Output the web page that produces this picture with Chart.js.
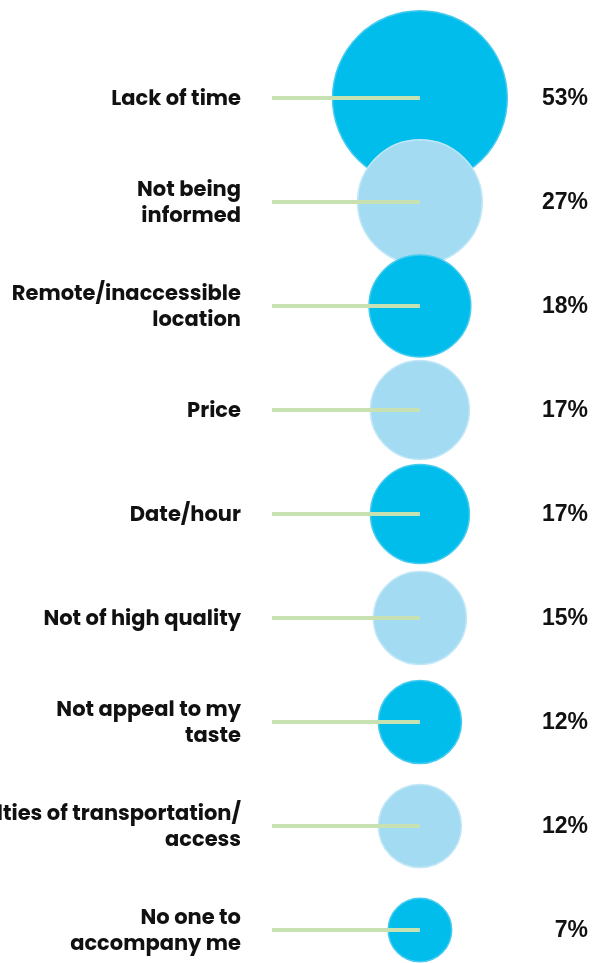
<!DOCTYPE html>
<html>
<head>
<meta charset="utf-8">
<script src="https://cdn.jsdelivr.net/npm/chart.js@4.4.1/dist/chart.umd.min.js"></script>
<style>
html,body{margin:0;padding:0;background:#fff;}
#wrap{width:599px;height:963px;position:relative;}
</style>
</head>
<body>
<div id="wrap"><canvas id="c"></canvas></div>
<script>
const categories = [
  "Lack of time",
  ["Not being", "informed"],
  ["Remote/inaccessible", "location"],
  "Price",
  "Date/hour",
  "Not of high quality",
  ["Not appeal to my", "taste"],
  ["Difficulties of transportation/", "access"],
  ["No one to", "accompany me"]
];
const values = [53, 27, 18, 17, 17, 15, 12, 12, 7];
const valueLabels = ["53%", "27%", "18%", "17%", "17%", "15%", "12%", "12%", "7%"];

const DARK = "#00bdeb", LIGHT = "#a3dbf2";
const DARK_BORDER = "#45cbef", LIGHT_BORDER = "#c2e8f7";
const X_BUBBLE = 0.634, X_LINE_START = 0.082;

const bubbleData = values.map((v, i) => ({ x: X_BUBBLE, y: i, r: Math.sqrt(v) * 12 }));
const lineData = [];
values.forEach((v, i) => {
  lineData.push({ x: X_LINE_START, y: i });
  lineData.push({ x: X_BUBBLE, y: i });
  lineData.push({ x: X_BUBBLE, y: null });
});

const rowTicks = (axis) => { axis.ticks = categories.map((_, i) => ({ value: i })); };
const fitAxis = (w) => (a) => { a.width = w; a.paddingTop = 0; a.paddingBottom = 0; };

new Chart(document.getElementById("c"), {
  data: {
    datasets: [
      {
        type: "line",
        data: lineData,
        borderColor: "#c8e1b3",
        borderWidth: 4,
        borderCapStyle: "butt",
        pointRadius: 0,
        spanGaps: false,
        order: 0,
        clip: false
      },
      {
        type: "bubble",
        data: bubbleData,
        backgroundColor: values.map((v, i) => i % 2 === 0 ? DARK : LIGHT),
        borderColor: values.map((v, i) => i % 2 === 0 ? DARK_BORDER : LIGHT_BORDER),
        borderWidth: 1.5,
        order: 1,
        clip: false
      }
    ]
  },
  options: {
    responsive: true,
    maintainAspectRatio: false,
    animation: false,
    layout: { autoPadding: false, padding: { top: 9.6, bottom: 1.8, left: 0, right: 11 } },
    plugins: { legend: { display: false }, tooltip: { enabled: false } },
    scales: {
      x: { type: "linear", min: 0, max: 1, display: false },
      y: {
        type: "linear", position: "left", reverse: true, min: -0.85, max: 8.3,
        afterBuildTicks: rowTicks,
        afterFit: fitAxis(250),
        grid: { display: false, drawTicks: false },
        border: { display: false },
        ticks: {
          padding: 9,
          labelOffset: 2,
          color: "#111",
          font: { family: "Poppins, 'Open Sans', sans-serif", weight: "bold", size: 21, lineHeight: "26px" },
          callback: (v) => categories[v]
        }
      },
      y2: {
        type: "linear", position: "right", reverse: true, min: -0.85, max: 8.3,
        afterBuildTicks: rowTicks,
        afterFit: fitAxis(70),
        grid: { display: false, drawTicks: false },
        border: { display: false },
        ticks: {
          crossAlign: "far",
          labelOffset: 1,
          color: "#111",
          font: { family: "'Liberation Sans', Arial, sans-serif", weight: "bold", size: 23 },
          callback: (v) => valueLabels[v]
        }
      }
    }
  }
});
</script>
</body>
</html>
